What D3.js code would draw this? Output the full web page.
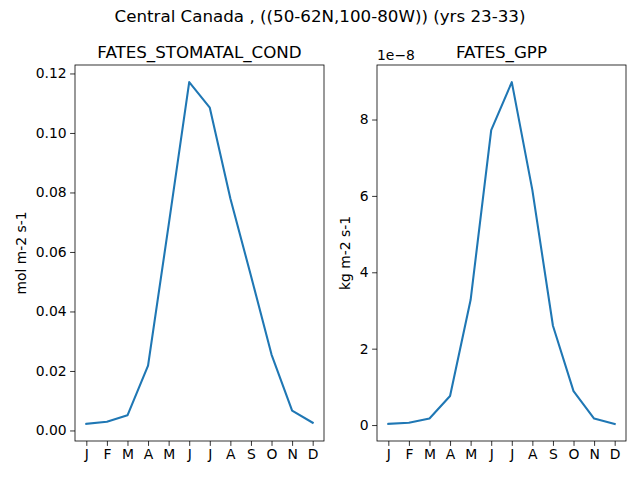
<!DOCTYPE html>
<html>
<head>
<meta charset="utf-8">
<script src="https://cdn.jsdelivr.net/npm/d3@7"></script>
<style>
  body { margin: 0; background: #fff; }
  text { font-family: "DejaVu Sans", sans-serif; fill: #000; }
</style>
</head>
<body>
<svg id="chart" width="640" height="480"></svg>
<script>
const months = ['J','F','M','A','M','J','J','A','S','O','N','D'];
const stomatalCond = [0.0022, 0.0029, 0.0051, 0.0218, 0.069, 0.1171, 0.1085, 0.078, 0.052, 0.0255, 0.0067, 0.0026];
const gpp = [0.03e-8, 0.06e-8, 0.17e-8, 0.76e-8, 3.28e-8, 7.72e-8, 8.98e-8, 6.15e-8, 2.60e-8, 0.89e-8, 0.17e-8, 0.03e-8];

const stomatalTicks = [0, 0.02, 0.04, 0.06, 0.08, 0.10, 0.12];
const gppTicks = [0, 2e-8, 4e-8, 6e-8, 8e-8];

const svg = d3.select('#chart');
const lineColor = '#1f77b4';

svg.append('text')
    .attr('x', 320)
    .attr('y', 22)
    .attr('text-anchor', 'middle')
    .attr('font-size', '16.7px')
    .text('Central Canada , ((50-62N,100-80W)) (yrs 23-33)');

const panels = [
  {left: 75, title: 'FATES_STOMATAL_COND', ylabel: 'mol m-2 s-1', labelX: 26,
   values: stomatalCond, ticks: stomatalTicks, fmt: d3.format('.2f'), offset: null},
  {left: 377, title: 'FATES_GPP', ylabel: 'kg m-2 s-1', labelX: 350,
   values: gpp, ticks: gppTicks, fmt: d => d3.format('d')(Math.round(d / 1e-8)), offset: '1e\u22128'}
];

const plotTop = 65, plotBottom = 441, plotWidth = 249;

panels.forEach(p => {
  const g = svg.append('g');

  const x = d3.scaleLinear()
      .domain([-0.55, 11.55])
      .range([p.left, p.left + plotWidth]);

  const ymin = d3.min(p.values), ymax = d3.max(p.values);
  const pad = (ymax - ymin) * 0.05;
  const y = d3.scaleLinear()
      .domain([ymin - pad, ymax + pad])
      .range([plotBottom, plotTop]);

  const line = d3.line()
      .x((d, i) => x(i))
      .y(d => y(d));

  g.append('path')
      .datum(p.values)
      .attr('fill', 'none')
      .attr('stroke', lineColor)
      .attr('stroke-width', 2.08)
      .attr('stroke-linejoin', 'round')
      .attr('stroke-linecap', 'square')
      .attr('d', line);

  const xAxis = g.append('g')
      .attr('transform', `translate(0,${plotBottom})`)
      .call(d3.axisBottom(x).tickValues(d3.range(12)).tickFormat(i => months[i]).tickSize(4.9).tickPadding(3.5));

  const yAxis = g.append('g')
      .attr('transform', `translate(${p.left},0)`)
      .call(d3.axisLeft(y).tickValues(p.ticks).tickFormat(p.fmt).tickSize(4.9).tickPadding(3.5));

  [xAxis, yAxis].forEach(a => {
    a.select('.domain').remove();
    a.selectAll('line').attr('stroke', '#000').attr('stroke-width', 0.8);
    a.selectAll('text').attr('font-size', '13.9px').attr('font-family', '"DejaVu Sans", sans-serif');
  });

  g.append('rect')
      .attr('x', p.left)
      .attr('y', plotTop)
      .attr('width', plotWidth)
      .attr('height', plotBottom - plotTop)
      .attr('fill', 'none')
      .attr('stroke', '#000')
      .attr('stroke-width', 0.8);

  g.append('text')
      .attr('x', p.left + plotWidth / 2)
      .attr('y', plotTop - 7)
      .attr('text-anchor', 'middle')
      .attr('font-size', '16.7px')
      .text(p.title);

  g.append('text')
      .attr('transform', `translate(${p.labelX},${(plotTop + plotBottom) / 2}) rotate(-90)`)
      .attr('text-anchor', 'middle')
      .attr('font-size', '13.9px')
      .text(p.ylabel);

  if (p.offset) {
    g.append('text')
        .attr('x', p.left)
        .attr('y', plotTop - 5)
        .attr('font-size', '13.9px')
        .text(p.offset);
  }
});
</script>
</body>
</html>
